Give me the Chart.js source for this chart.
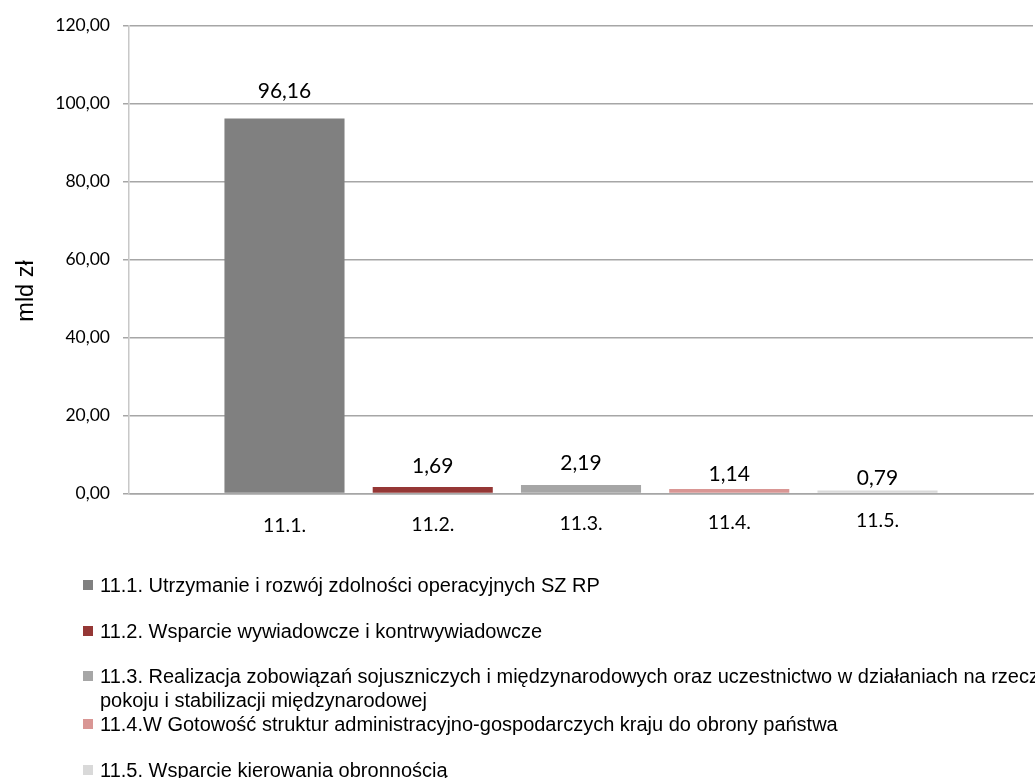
<!DOCTYPE html>
<html>
<head>
<meta charset="utf-8">
<script src="https://cdn.jsdelivr.net/npm/chart.js@4/dist/chart.umd.min.js"></script>
<style>
    html, body { margin: 0; padding: 0; background: #fff; overflow: hidden; }
</style>
</head>
<body>
<canvas id="chart" width="1035" height="778"></canvas>
<script>
// dane z wykresu (mld zł)
const codes = ['11.1.', '11.2.', '11.3.', '11.4.', '11.5.']
const values = [96.16, 1.69, 2.19, 1.14, 0.79]
const legendNames = [
    '11.1. Utrzymanie i rozwój zdolności operacyjnych SZ RP',
    '11.2. Wsparcie wywiadowcze i kontrwywiadowcze',
    '11.3. Realizacja zobowiązań sojuszniczych i międzynarodowych oraz uczestnictwo w działaniach na rzecz\npokoju i stabilizacji międzynarodowej',
    '11.4.W Gotowość struktur administracyjno-gospodarczych kraju do obrony państwa',
    '11.5. Wsparcie kierowania obronnością'
]
const yTicks = [0, 20, 40, 60, 80, 100, 120]
const yTitle = 'mld zł'

const colors = ['#808080', '#953735', '#A6A6A6', '#D99694', '#D9D9D9']

const fmt = v => v.toFixed(2).replace('.', ',')

// etykiety rozmieszczone recznie jak w oryginale
const valueLift = [20, 14, 15, 8, 5]
const codeDrop = [38, 37, 36, 35, 33]
const legendBase = [592, 638, 683, 731, 777]

const extras = {
    id: 'extras',
    afterDraw(chart) {
        const ctx = chart.ctx
        const area = chart.chartArea
        ctx.save()

        // tytul osi Y
        ctx.save()
        ctx.translate(33, 291)
        ctx.rotate(-Math.PI / 2)
        ctx.font = '23.5px "Liberation Sans", Arial, sans-serif'
        ctx.fillStyle = '#000'
        ctx.textAlign = 'center'
        ctx.textBaseline = 'alphabetic'
        ctx.fillText(yTitle, 0, 0)
        ctx.restore()

        chart.data.datasets.forEach((ds, i) => {
            const bar = chart.getDatasetMeta(i).data[0]
            ctx.fillStyle = '#000'
            ctx.textAlign = 'center'
            ctx.textBaseline = 'alphabetic'
            ctx.font = '21px Lato, sans-serif'
            ctx.fillText(fmt(ds.data[0]), bar.x, bar.y - valueLift[i])
            ctx.font = '19.5px Lato, sans-serif'
            ctx.fillText(codes[i], bar.x, area.bottom + codeDrop[i])
        })

        // legenda
        ctx.font = '20px "Liberation Sans", Arial, sans-serif'
        ctx.textAlign = 'left'
        legendNames.forEach((name, i) => {
            const y = legendBase[i]
            ctx.fillStyle = colors[i]
            ctx.fillRect(83, y - 12, 10, 10)
            ctx.fillStyle = '#000'
            name.split('\n').forEach((line, k) => {
                ctx.fillText(line, 100, y + k * 24)
            })
        })
        ctx.restore()
    }
}

new Chart(document.getElementById('chart'), {
    type: 'bar',
    data: {
        labels: [''],
        datasets: codes.map((c, i) => ({
            label: legendNames[i],
            data: [values[i]],
            backgroundColor: colors[i],
            categoryPercentage: 0.82,
            barPercentage: 0.81,
        }))
    },
    options: {
        responsive: false,
        animation: false,
        devicePixelRatio: 1,
        layout: {
            padding: {top: 25.5, right: 2, bottom: 284.5, left: 0}
        },
        plugins: {
            legend: {display: false},
            tooltip: {enabled: false}
        },
        scales: {
            x: {
                grid: {display: false},
                ticks: {display: false},
                border: {color: '#A6A6A6', width: 1.5},
                afterFit: s => { s.height = 0 }
            },
            y: {
                min: yTicks[0],
                max: yTicks[yTicks.length - 1],
                afterBuildTicks: s => { s.ticks = yTicks.map(v => ({value: v})) },
                ticks: {
                    color: '#000',
                    padding: 13,
                    font: {family: 'Lato', size: 17.5},
                    callback: v => fmt(v)
                },
                grid: {color: '#A6A6A6', lineWidth: 1.5, tickLength: 6},
                border: {color: '#C8C8C8', width: 1.5},
                afterFit: s => { s.width = 129 }
            }
        }
    },
    plugins: [extras]
})
</script>
</body>
</html>
